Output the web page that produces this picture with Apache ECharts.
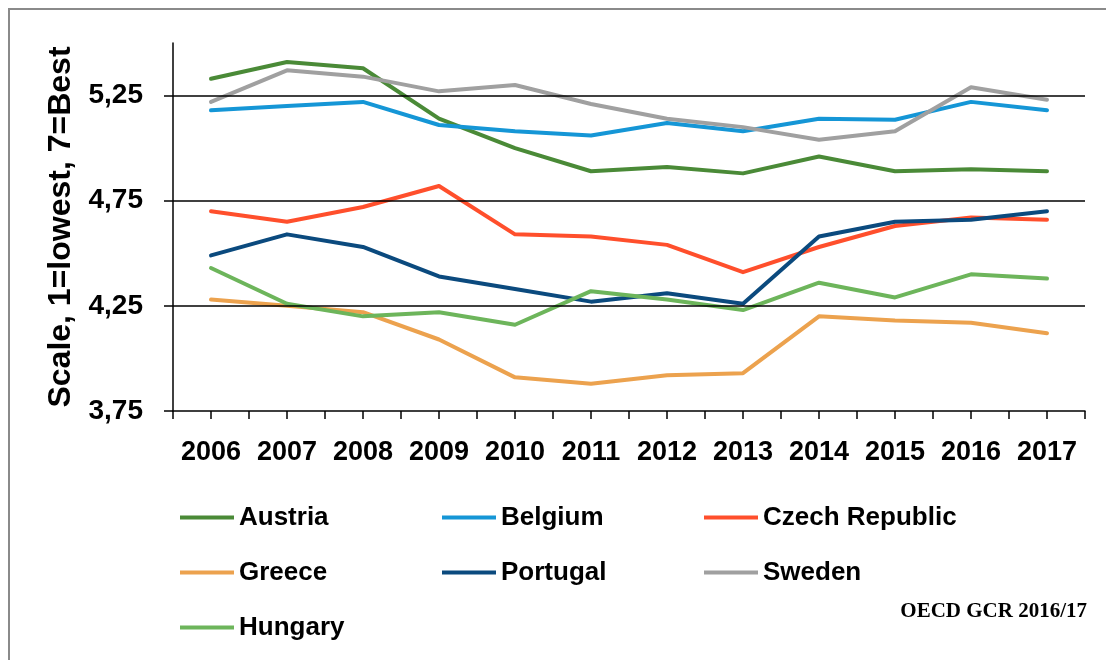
<!DOCTYPE html>
<html>
<head>
<meta charset="utf-8">
<script src="https://cdn.jsdelivr.net/npm/echarts@6/dist/echarts.min.js"></script>
<style>
  html, body { margin: 0; padding: 0; background: #fff; }
  #chart { width: 1107px; height: 660px; }
</style>
</head>
<body>
<div id="chart"></div>
<script>
const FONT = '"Liberation Sans", Arial, sans-serif';

const years = ["2006", "2007", "2008", "2009", "2010", "2011", "2012", "2013", "2014", "2015", "2016", "2017"];
const yTicks = [3.75, 4.25, 4.75, 5.25];

const austria  = [5.33, 5.41, 5.38, 5.14, 5.00, 4.89, 4.91, 4.88, 4.96, 4.89, 4.90, 4.89];
const belgium  = [5.18, 5.20, 5.22, 5.11, 5.08, 5.06, 5.12, 5.08, 5.14, 5.135, 5.22, 5.18];
const czech    = [4.70, 4.65, 4.72, 4.82, 4.59, 4.58, 4.54, 4.41, 4.53, 4.63, 4.67, 4.66];
const greece   = [4.28, 4.25, 4.22, 4.09, 3.91, 3.88, 3.92, 3.93, 4.20, 4.18, 4.17, 4.12];
const portugal = [4.49, 4.59, 4.53, 4.39, 4.33, 4.27, 4.31, 4.26, 4.58, 4.65, 4.66, 4.70];
const sweden   = [5.22, 5.37, 5.34, 5.27, 5.30, 5.21, 5.14, 5.10, 5.04, 5.08, 5.29, 5.23];
const hungary  = [4.43, 4.26, 4.20, 4.22, 4.16, 4.32, 4.28, 4.23, 4.36, 4.29, 4.40, 4.38];

const countries = [
  { name: "Austria", data: austria, color: "#4A8A37" },
  { name: "Belgium", data: belgium, color: "#1596D6" },
  { name: "Czech Republic", data: czech, color: "#FF4F2C" },
  { name: "Greece", data: greece, color: "#ECA24E" },
  { name: "Portugal", data: portugal, color: "#0B4A7E" },
  { name: "Sweden", data: sweden, color: "#A0A0A0" },
  { name: "Hungary", data: hungary, color: "#6DB55B" },
];

const chart = echarts.init(document.getElementById("chart"), null, { renderer: "canvas" });

// legend columns laid out like the original (3 columns)
const legendCol = (left, names) => ({
  orient: "vertical",
  left: left,
  top: 499,
  itemGap: 28,
  itemWidth: 54,
  itemHeight: 4,
  icon: "rect",
  data: names,
  selectedMode: false,
  textStyle: { fontFamily: FONT, fontWeight: "bold", fontSize: 26, color: "#000", lineHeight: 27 },
});

chart.setOption({
  backgroundColor: "#fff",
  animation: false,
  graphic: [
    {
      type: "polyline",
      shape: { points: [[9, 660], [9, 9], [1106, 9]] },
      style: { stroke: "#8a8a8a", lineWidth: 2, fill: null },
    },
    {
      type: "text",
      right: 20,
      top: 601,
      style: { text: "OECD GCR 2016/17", font: 'bold 21px "Liberation Serif", "Times New Roman", serif', fill: "#000" },
    },
  ],
  grid: { left: 173, right: 22, top: 43, bottom: 249, containLabel: false },
  legend: [
    legendCol(175, ["Austria", "Greece", "Hungary"]),
    legendCol(437, ["Belgium", "Portugal"]),
    legendCol(699, ["Czech Republic", "Sweden"]),
  ],
  xAxis: [
    {
      type: "category",
      data: years,
      boundaryGap: true,
      axisLine: { lineStyle: { color: "#000", width: 1.5 } },
      axisTick: { show: true, interval: 0, length: 8, lineStyle: { color: "#000", width: 1.5 } },
      axisLabel: { interval: 0, color: "#000", fontFamily: FONT, fontWeight: "bold", fontSize: 27, margin: 28 },
      splitLine: { show: false },
    },
    {
      // second set of ticks, centred on the categories
      type: "category",
      data: years,
      position: "bottom",
      boundaryGap: true,
      axisLine: { show: false },
      axisTick: { show: true, interval: 0, alignWithLabel: true, length: 8, lineStyle: { color: "#000", width: 1.5 } },
      axisLabel: { show: false },
      splitLine: { show: false },
    },
  ],
  yAxis: {
    type: "value",
    min: 3.75,
    max: 5.5,
    interval: 0.5,
    name: "Scale, 1=lowest, 7=Best",
    nameLocation: "middle",
    nameGap: 96,
    nameTextStyle: { color: "#000", fontFamily: FONT, fontWeight: "bold", fontSize: 32 },
    axisLine: { show: true, lineStyle: { color: "#000", width: 1.5 } },
    axisTick: { show: true, length: 9, customValues: yTicks, lineStyle: { color: "#000", width: 1.5 } },
    axisLabel: {
      color: "#000",
      fontFamily: FONT,
      fontWeight: "bold",
      fontSize: 28,
      margin: 30,
      customValues: yTicks,
      formatter: (v) => v.toFixed(2).replace(".", ","),
    },
    splitLine: { show: false },
  },
  series: [
    {
      type: "line",
      name: "grid",
      data: [],
      silent: true,
      z: 1,
      markLine: {
        symbol: "none",
        silent: true,
        label: { show: false },
        lineStyle: { color: "#000", width: 1.5, type: "solid" },
        data: yTicks.slice(1).map((v) => ({ yAxis: v })),
      },
    },
    ...countries.map((c) => ({
      type: "line",
      name: c.name,
      data: c.data,
      z: 3,
      showSymbol: false,
      symbol: "none",
      color: c.color,
      lineStyle: { color: c.color, width: 4, cap: "round", join: "round" },
    })),
  ],
});
</script>
</body>
</html>
